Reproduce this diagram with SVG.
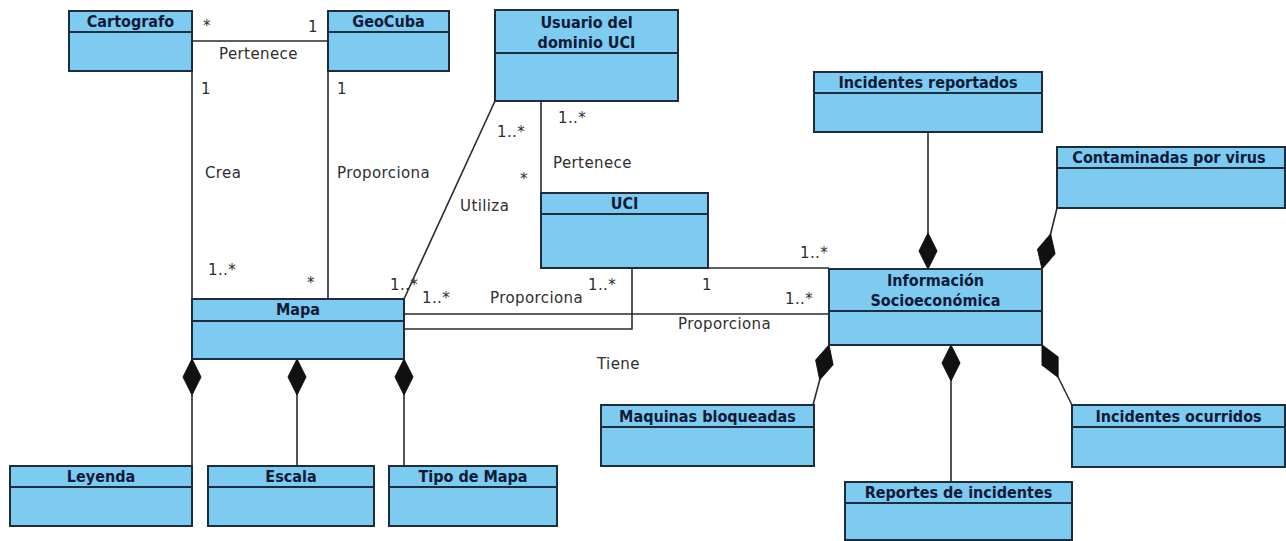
<svg xmlns="http://www.w3.org/2000/svg" width="1286" height="541" viewBox="0 0 1286 541">
  <style>
    .box { fill: #7dcbf1; stroke: #1f2d3a; stroke-width: 2; }
    .sep { stroke: #1f2d3a; stroke-width: 2; }
    .title { font-family: "DejaVu Sans Condensed", "DejaVu Sans", "Liberation Sans", sans-serif; font-stretch: condensed; font-weight: bold; font-size: 16px; fill: #0d1a36; text-anchor: middle; }
    .edge { fill: none; stroke: #2a2a2a; stroke-width: 1.6; }
    .lbl { font-family: "DejaVu Sans", "Liberation Sans", sans-serif; font-size: 15px; letter-spacing: 0.4px; fill: #2e2e2e; }
    .dia { fill: #111; stroke: #111; stroke-width: 1; }
  </style>
  <defs>
    <!-- filled composition diamond, tip at origin, pointing along +y -->
    <path id="diamond" d="M0,0 L9,18 L0,36 L-9,18 Z"/>
  </defs>
  <rect width="1286" height="541" fill="#ffffff"/>

  <!-- connectors -->
  <g id="connectors">
    <!-- Cartografo - GeoCuba : Pertenece -->
    <path class="edge" d="M192,41 H328"/>
    <!-- Cartografo - Mapa : Crea -->
    <path class="edge" d="M192,71 V299"/>
    <!-- GeoCuba - Mapa : Proporciona -->
    <path class="edge" d="M328,71 V299"/>
    <!-- Usuario - Mapa : Utiliza -->
    <path class="edge" d="M495,101 L404,299"/>
    <!-- Usuario - UCI : Pertenece -->
    <path class="edge" d="M541,101 V193"/>
    <!-- Mapa - UCI : Proporciona / Tiene -->
    <path class="edge" d="M404,329 H632 V268"/>
    <!-- Mapa - Informacion : Proporciona -->
    <path class="edge" d="M404,314 H829"/>
    <!-- UCI - Informacion -->
    <path class="edge" d="M708,268 H829"/>
    <!-- Mapa compositions -->
    <path class="edge" d="M192,359 V466"/>
    <path class="edge" d="M297,359 V466"/>
    <path class="edge" d="M404,359 V466"/>
    <use href="#diamond" class="dia" transform="translate(192,359)"/>
    <use href="#diamond" class="dia" transform="translate(297,359)"/>
    <use href="#diamond" class="dia" transform="translate(404,359)"/>
    <!-- Informacion compositions -->
    <path class="edge" d="M928,132 V269"/>
    <use href="#diamond" class="dia" transform="translate(928,269) rotate(180)"/>
    <path class="edge" d="M1042,269 L1057,208"/>
    <use href="#diamond" class="dia" transform="translate(1042,269) rotate(-166.2)"/>
    <path class="edge" d="M829,345 L813,405"/>
    <use href="#diamond" class="dia" transform="translate(829,345) rotate(14.9)"/>
    <path class="edge" d="M951,345 V482"/>
    <use href="#diamond" class="dia" transform="translate(951,345)"/>
    <path class="edge" d="M1042,345 L1072,405"/>
    <use href="#diamond" class="dia" transform="translate(1042,345) rotate(-26.6)"/>

    <!-- association labels and multiplicities -->
    <text class="lbl" x="203" y="31">*</text>
    <text class="lbl" x="308" y="32">1</text>
    <text class="lbl" x="219" y="59">Pertenece</text>
    <text class="lbl" x="201" y="94">1</text>
    <text class="lbl" x="337" y="94">1</text>
    <text class="lbl" x="205" y="178">Crea</text>
    <text class="lbl" x="337" y="178">Proporciona</text>
    <text class="lbl" x="208" y="275">1..*</text>
    <text class="lbl" x="307" y="288">*</text>
    <text class="lbl" x="497" y="137">1..*</text>
    <text class="lbl" x="460" y="211">Utiliza</text>
    <text class="lbl" x="390" y="290">1..*</text>
    <text class="lbl" x="558" y="123">1..*</text>
    <text class="lbl" x="553" y="168">Pertenece</text>
    <text class="lbl" x="520" y="184">*</text>
    <text class="lbl" x="422" y="303">1..*</text>
    <text class="lbl" x="490" y="303">Proporciona</text>
    <text class="lbl" x="588" y="290">1..*</text>
    <text class="lbl" x="702" y="290">1</text>
    <text class="lbl" x="800" y="258">1..*</text>
    <text class="lbl" x="785" y="304">1..*</text>
    <text class="lbl" x="678" y="329">Proporciona</text>
    <text class="lbl" x="597" y="369">Tiene</text>
  </g>

  <g id="cartografo">
    <rect class="box" x="69" y="11" width="123" height="60"/>
    <line class="sep" x1="69" y1="32" x2="192" y2="32"/>
    <text class="title" x="130.5" y="27">Cartografo</text>
  </g>
  <g id="geocuba">
    <rect class="box" x="328" y="11" width="121" height="60"/>
    <line class="sep" x1="328" y1="32" x2="449" y2="32"/>
    <text class="title" x="388.5" y="27">GeoCuba</text>
  </g>
  <g id="usuario">
    <rect class="box" x="495" y="10" width="183" height="91"/>
    <line class="sep" x1="495" y1="53" x2="678" y2="53"/>
    <text class="title" x="586.5" y="28">Usuario del</text>
    <text class="title" x="586.5" y="48">dominio UCI</text>
  </g>
  <g id="uci">
    <rect class="box" x="541" y="193" width="167" height="75"/>
    <line class="sep" x1="541" y1="214" x2="708" y2="214"/>
    <text class="title" x="624.5" y="209">UCI</text>
  </g>
  <g id="mapa">
    <rect class="box" x="192" y="299" width="212" height="60"/>
    <line class="sep" x1="192" y1="321" x2="404" y2="321"/>
    <text class="title" x="298" y="315">Mapa</text>
  </g>
  <g id="informacion">
    <rect class="box" x="829" y="269" width="213" height="76"/>
    <line class="sep" x1="829" y1="311" x2="1042" y2="311"/>
    <text class="title" x="935.5" y="286">Información</text>
    <text class="title" x="935.5" y="306">Socioeconómica</text>
  </g>
  <g id="incidentes-reportados">
    <rect class="box" x="814" y="72" width="228" height="60"/>
    <line class="sep" x1="814" y1="93" x2="1042" y2="93"/>
    <text class="title" x="928" y="88">Incidentes reportados</text>
  </g>
  <g id="contaminadas">
    <rect class="box" x="1057" y="147" width="228" height="61"/>
    <line class="sep" x1="1057" y1="168" x2="1285" y2="168"/>
    <text class="title" x="1169" y="163">Contaminadas por virus</text>
  </g>
  <g id="leyenda">
    <rect class="box" x="10" y="466" width="182" height="60"/>
    <line class="sep" x1="10" y1="487" x2="192" y2="487"/>
    <text class="title" x="101" y="482">Leyenda</text>
  </g>
  <g id="escala">
    <rect class="box" x="208" y="466" width="166" height="60"/>
    <line class="sep" x1="208" y1="487" x2="374" y2="487"/>
    <text class="title" x="291" y="482">Escala</text>
  </g>
  <g id="tipo-mapa">
    <rect class="box" x="389" y="466" width="168" height="60"/>
    <line class="sep" x1="389" y1="487" x2="557" y2="487"/>
    <text class="title" x="473" y="482">Tipo de Mapa</text>
  </g>
  <g id="maquinas">
    <rect class="box" x="601" y="405" width="213" height="61"/>
    <line class="sep" x1="601" y1="427" x2="814" y2="427"/>
    <text class="title" x="707.5" y="422">Maquinas bloqueadas</text>
  </g>
  <g id="reportes">
    <rect class="box" x="845" y="482" width="227" height="58"/>
    <line class="sep" x1="845" y1="503" x2="1072" y2="503"/>
    <text class="title" x="958.5" y="498">Reportes de incidentes</text>
  </g>
  <g id="incidentes-ocurridos">
    <rect class="box" x="1072" y="405" width="213" height="62"/>
    <line class="sep" x1="1072" y1="427" x2="1285" y2="427"/>
    <text class="title" x="1178.5" y="422">Incidentes ocurridos</text>
  </g>
</svg>
